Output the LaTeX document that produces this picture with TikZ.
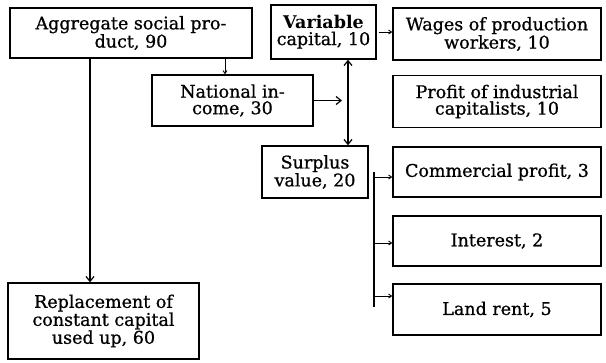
\documentclass[tikz,border=0pt]{standalone}
\usepackage{fontspec}
\setmainfont{DejaVu Serif}
\newfontfamily\heavyfont{DejaVu Serif}[FakeBold=0.8]
\usetikzlibrary{arrows.meta}
\newcommand\boxfont{\heavyfont\fontsize{17.5}{16.5}\selectfont}
\tikzset{
  bx/.style={draw, line width=1.3pt, inner sep=0pt, align=center, font=\boxfont},
  con/.style={line width=1.2pt},
  big/.style={con, -{Straight Barb[length=5pt,width=8pt]}},
  sm/.style={line width=0.9pt, -{Straight Barb[length=3pt,width=4pt]}},
}
\begin{document}
\begin{tikzpicture}[x=1pt,y=-1pt]
\useasboundingbox (0,0) rectangle (606,362);
% boxes
\node[bx, minimum width=242pt, minimum height=50pt] (agg) at (131,33) {Aggregate social pro-\\duct, 90};
\node[bx, minimum width=105pt, minimum height=54pt] (var) at (323.5,32) {{\setmainfont{DejaVu Serif}\fontsize{17.5}{16.5}\selectfont\bfseries Variable}\\capital, 10};
\node[bx, minimum width=208pt, minimum height=52pt] (wag) at (497,34) {Wages of production\\workers, 10};
\node[bx, minimum width=161pt, minimum height=51pt] (nat) at (232.5,100.5) {National in-\\come, 30};
\node[bx, minimum width=208pt, minimum height=52pt] (pro) at (497,101.5) {Profit of industrial\\capitalists, 10};
\node[bx, minimum width=106pt, minimum height=52pt] (sur) at (315,172) {Surplus\\value, 20};
\node[bx, minimum width=208pt, minimum height=50pt] (com) at (497,172) {Commercial profit, 3};
\node[bx, minimum width=208pt, minimum height=50pt] (int) at (497,241) {Interest, 2};
\node[bx, minimum width=208pt, minimum height=51pt] (lan) at (497,309.5) {Land rent, 5};
\node[bx, minimum width=191pt, minimum height=76pt] (rep) at (103.5,321) {Replacement of\\constant capital\\used up, 60};
% helper coordinates
\coordinate (colA) at (90,0);
\coordinate (colB) at (225,0);
\coordinate (colD) at (348,0);
\coordinate (niEnd) at (342,100.5);
\coordinate (brT) at (374,172);
\coordinate (brB) at (374,307);
\coordinate (b1) at (374,177);
\coordinate (b2) at (374,243);
\coordinate (b3) at (374,296);
% connectors
\draw[big] (agg.south -| colA) -- (rep.north -| colA);
\draw[sm] (agg.south -| colB) -- (nat.north -| colB);
\draw[big] (nat.east) -- (niEnd);
\draw[con, {Straight Barb[length=5pt,width=8pt]}-{Straight Barb[length=5pt,width=8pt]}] (var.south -| colD) -- (sur.north -| colD);
\draw[sm] ([xshift=2pt]var.east) -- (var.east -| wag.west);
\draw[con] (brT) -- (brB);
\draw[sm] (b1) -- (b1 -| com.west);
\draw[sm] (b2) -- (b2 -| int.west);
\draw[sm] (b3) -- (b3 -| lan.west);
\end{tikzpicture}
\end{document}
